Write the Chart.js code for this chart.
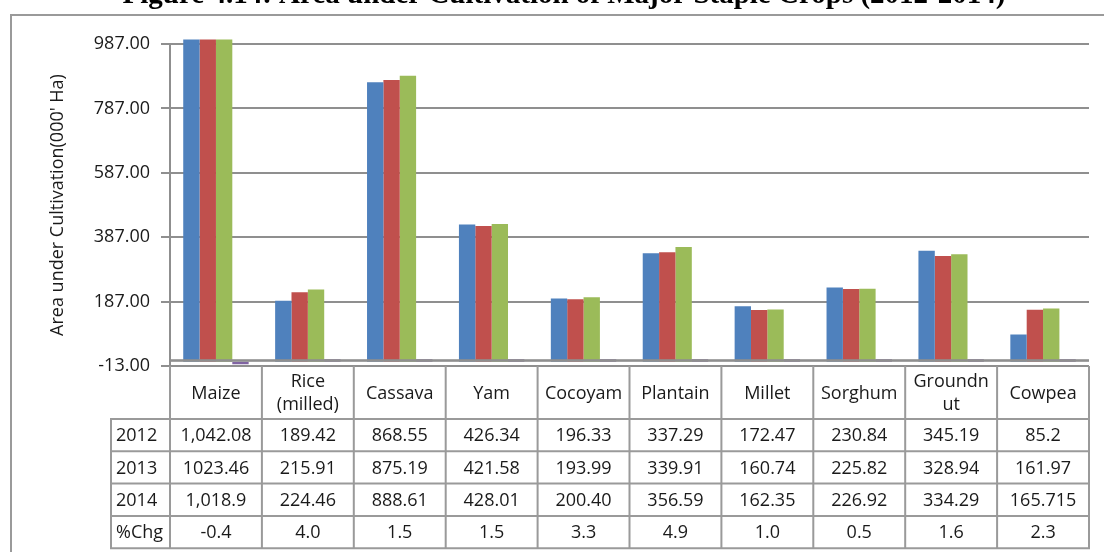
<!DOCTYPE html>
<html>
<head>
<meta charset="utf-8">
<script src="https://cdn.jsdelivr.net/npm/chart.js@4.4.0/dist/chart.umd.min.js"></script>
<style>
  html, body { margin: 0; padding: 0; background: #ffffff; }
  #wrap { width: 1104px; height: 552px; position: relative; overflow: hidden; }
  canvas { display: block; }
</style>
</head>
<body>
<div id="wrap"><canvas id="chart" width="1104" height="552"></canvas></div>
<script>
// ---------------- data ----------------
const titleText = 'Figure 4.14: Area under Cultivation of Major Staple Crops (2012-2014)';
const yAxisTitle = "Area under Cultivation(000' Ha)";
const categories = ['Maize', 'Rice (milled)', 'Cassava', 'Yam', 'Cocoyam', 'Plantain', 'Millet', 'Sorghum', 'Groundnut', 'Cowpea'];
const headerLabels = [['Maize'], ['Rice', '(milled)'], ['Cassava'], ['Yam'], ['Cocoyam'], ['Plantain'], ['Millet'], ['Sorghum'], ['Groundn', 'ut'], ['Cowpea']];
const seriesNames = ['2012', '2013', '2014', '%Chg'];
const values2012 = [1042.08, 189.42, 868.55, 426.34, 196.33, 337.29, 172.47, 230.84, 345.19, 85.2];
const values2013 = [1023.46, 215.91, 875.19, 421.58, 193.99, 339.91, 160.74, 225.82, 328.94, 161.97];
const values2014 = [1018.9, 224.46, 888.61, 428.01, 200.40, 356.59, 162.35, 226.92, 334.29, 165.715];
const valuesChg = [-0.4, 4.0, 1.5, 1.5, 3.3, 4.9, 1.0, 0.5, 1.6, 2.3];
// table cell texts as printed in the source
const text2012 = ['1,042.08', '189.42', '868.55', '426.34', '196.33', '337.29', '172.47', '230.84', '345.19', '85.2'];
const text2013 = ['1023.46', '215.91', '875.19', '421.58', '193.99', '339.91', '160.74', '225.82', '328.94', '161.97'];
const text2014 = ['1,018.9', '224.46', '888.61', '428.01', '200.40', '356.59', '162.35', '226.92', '334.29', '165.715'];
const textChg = ['-0.4', '4.0', '1.5', '1.5', '3.3', '4.9', '1.0', '0.5', '1.6', '2.3'];
const yTicks = [-13, 187, 387, 587, 787, 987];

// ---------------- style ----------------
const colors = ['#4F81BD', '#C0504D', '#9BBB59', '#8064A2'];
const gridColor = '#8f8f8f';
const lineColor = '#9a9a9a';
const textColor = '#1a1a1a';
const fontFamily = '"Open Sans", "DejaVu Sans", sans-serif';

const tablePlugin = {
  id: 'excelTable',
  beforeDraw(chart) {
    const ctx = chart.ctx;
    ctx.save();
    ctx.fillStyle = '#ffffff';
    ctx.fillRect(0, 0, chart.width, chart.height);
    // outer frame
    ctx.strokeStyle = lineColor;
    ctx.lineWidth = 2;
    ctx.beginPath();
    ctx.moveTo(11, chart.height + 2);
    ctx.lineTo(11, 15);
    ctx.lineTo(chart.width + 2, 15);
    ctx.stroke();
    // cut-off figure title
    ctx.font = 'bold 29px "Liberation Serif", "Times New Roman", serif';
    ctx.fillStyle = '#000000';
    ctx.textAlign = 'center';
    ctx.textBaseline = 'alphabetic';
    ctx.fillText(titleText, 564, 3);
    ctx.restore();
  },
  afterDatasetsDraw(chart) {
    // horizontal axis line at value 0, drawn over the bars like Excel does
    const ctx = chart.ctx;
    const area = chart.chartArea;
    const y0 = chart.scales.y.getPixelForValue(0);
    ctx.save();
    ctx.fillStyle = gridColor;
    ctx.fillRect(area.left - 1, y0 - 2.6, area.right - area.left + 1, 2.6);
    ctx.restore();
  },
  afterDraw(chart) {
    const ctx = chart.ctx;
    const xs = chart.scales.x, ys = chart.scales.y;
    const half = (xs.getPixelForValue(1) - xs.getPixelForValue(0)) / 2;
    const bounds = categories.map((c, i) => xs.getPixelForValue(i) - half);
    bounds.push(xs.getPixelForValue(categories.length - 1) + half);
    const top = ys.getPixelForValue(yTicks[0]);
    const headerH = 53;
    const rowH = 32.3;
    const labelLeft = 111;
    const rows = [[seriesNames[0], text2012], [seriesNames[1], text2013], [seriesNames[2], text2014], [seriesNames[3], textChg]];
    const bottom = top + headerH + rowH * rows.length;
    const right = bounds[bounds.length - 1];

    ctx.save();
    ctx.strokeStyle = lineColor;
    ctx.lineWidth = 2;
    ctx.beginPath();
    bounds.forEach(b => { ctx.moveTo(b, top); ctx.lineTo(b, bottom); });
    ctx.moveTo(labelLeft, top + headerH); ctx.lineTo(labelLeft, bottom);
    for (let r = 0; r <= rows.length; r++) {
      const yy = top + headerH + r * rowH;
      ctx.moveTo(labelLeft - 1, yy); ctx.lineTo(right + 1, yy);
    }
    ctx.stroke();

    ctx.fillStyle = textColor;
    ctx.font = '18px ' + fontFamily;
    ctx.textBaseline = 'middle';
    ctx.textAlign = 'center';
    headerLabels.forEach((lines, i) => {
      const cx = (bounds[i] + bounds[i + 1]) / 2;
      const cy = top + headerH / 2 + 1;
      const lh = 23;
      lines.forEach((t, k) => {
        ctx.fillText(t, cx, cy + (k - (lines.length - 1) / 2) * lh);
      });
    });
    rows.forEach((row, r) => {
      const cy = top + headerH + r * rowH + rowH / 2 + 1;
      ctx.textAlign = 'left';
      ctx.fillText(row[0], labelLeft + 5, cy);
      ctx.textAlign = 'center';
      row[1].forEach((t, i) => {
        ctx.fillText(t, (bounds[i] + bounds[i + 1]) / 2, cy);
      });
    });
    ctx.restore();
  }
};

const seriesData = [values2012, values2013, values2014, valuesChg];
const datasets = seriesNames.map((name, i) => ({
  label: name,
  data: seriesData[i],
  backgroundColor: colors[i],
  borderWidth: 0,
  categoryPercentage: 0.712,
  barPercentage: 1.0,
  minBarLength: i === 3 ? 2.5 : 0,
  clip: { left: 0, top: 4.5, right: 0, bottom: 6 }
}));

new Chart(document.getElementById('chart'), {
  type: 'bar',
  data: { labels: categories, datasets },
  plugins: [tablePlugin],
  options: {
    responsive: false,
    animation: false,
    devicePixelRatio: 1,
    layout: { padding: { left: 0, top: 44, right: 15, bottom: 186 } },
    plugins: { legend: { display: false }, tooltip: { enabled: false }, title: { display: false } },
    scales: {
      x: { display: false },
      y: {
        min: yTicks[0],
        max: yTicks[yTicks.length - 1],
        ticks: {
          stepSize: yTicks[1] - yTicks[0],
          padding: 11,
          color: textColor,
          font: { family: fontFamily, size: 18 },
          callback: v => Number(v).toFixed(2)
        },
        grid: { color: gridColor, lineWidth: 2, tickLength: 9, drawTicks: true },
        border: { display: true, color: gridColor, width: 2 },
        title: {
          display: true,
          text: yAxisTitle,
          color: textColor,
          font: { family: fontFamily, size: 18 },
          padding: { top: 47, bottom: 0 }
        },
        afterFit(scale) { scale.width = 170; }
      }
    }
  }
});
</script>
</body>
</html>
